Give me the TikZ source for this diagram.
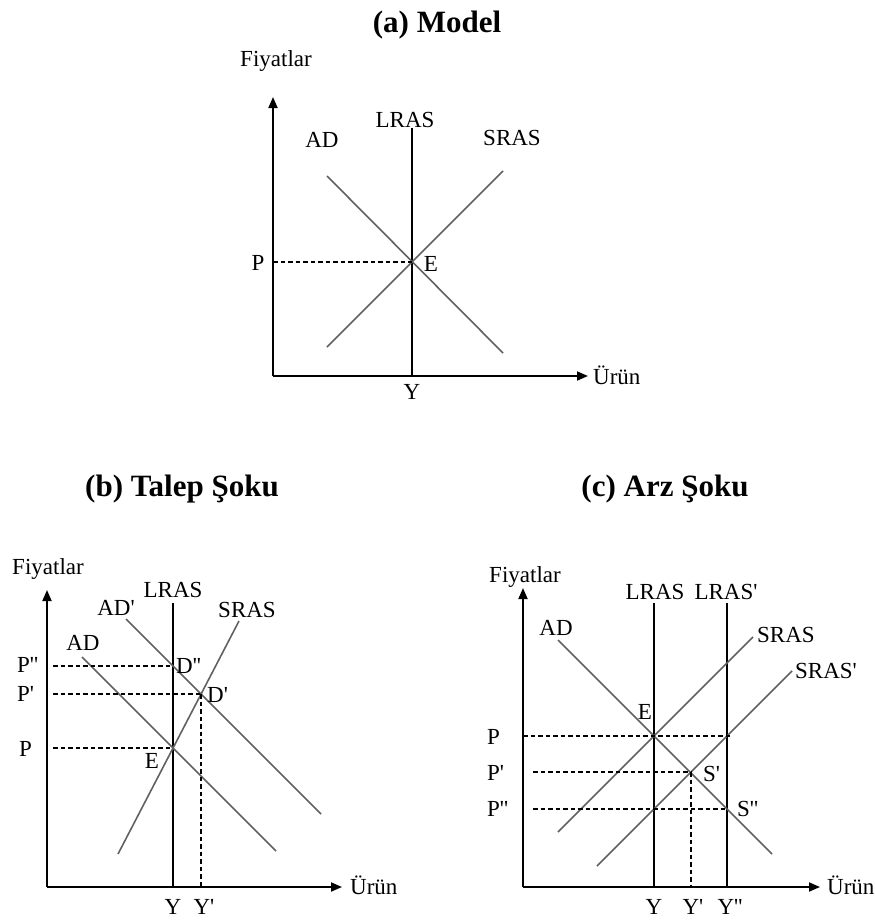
\documentclass[tikz,border=0pt]{standalone}
\usepackage{fontspec}
\setmainfont{Liberation Serif}
\usetikzlibrary{arrows.meta}
\newcommand\prm{\textquotesingle}

\begin{document}
\begin{tikzpicture}[x=1pt, y=-1pt,
    % ---- styles ----
    AX/.style={-{Triangle[length=11pt, width=9pt]}, line width=1.8pt, black},
    CV/.style={line width=1.6pt, color=black!62},
    LR/.style={line width=1.6pt, black},
    DS/.style={line width=1.3pt, dash pattern=on 4.5pt off 3pt},
    L/.style={font=\fontsize{23}{25}\selectfont, inner sep=0pt, anchor=base},
    LW/.style={L, anchor=base west},
    TT/.style={font=\fontsize{31}{34}\selectfont\bfseries, inner sep=0pt, anchor=base},
]
\useasboundingbox (0,0) rectangle (875,921);

% ===== Panel (a): Model =====
\node[TT] (ta) at (437,32) {(a) Model};
\coordinate (oa) at (273,376);
\coordinate (ea) at (412,262);
\draw[AX] (oa) -- (273,97);
\draw[AX] (oa) -- (588,376);
\draw[LR] (412,128) -- (412,376);
\draw[CV] (327,176) -- (503,353);
\draw[CV] (327,347) -- (503,171);
\draw[DS] (273,262) -- (ea);

\node[L] (fa) at (276,66) {Fiyatlar};
\node[L] at (405,127) {LRAS};
\node[L] at (322,147) {AD};
\node[L] at (512,145) {SRAS};
\node[L] at (258,270) {P};
\node[L] at (431,271) {E};
\node[L] at (412,399) {Y};
\node[LW] at (593,384) {Ürün};

% ===== Panel (b): Talep Şoku =====
\node[TT] (tb) at (182,496) {(b) Talep Şoku};
\coordinate (ob) at (47,887);
\coordinate (eb) at (173,748);
\coordinate (db) at (201,694);
\coordinate (ddb) at (173,666);
\draw[AX] (ob) -- (47,590);
\draw[AX] (ob) -- (342,887);
\draw[LR] (173,603) -- (173,887);
\draw[CV] (82,657) -- (276,851);
\draw[CV] (126,619) -- (321,814);
\draw[CV] (118,854) -- (239,621);
\draw[DS] (53,666) -- (ddb);
\draw[DS] (53,694) -- (db);
\draw[DS] (53,748) -- (eb);
\draw[DS] (db) -- (201,887);

\node[L] (fb) at (48,574) {Fiyatlar};
\node[L] at (173,597) {LRAS};
\node[L] at (83,650) {AD};
\node[L] at (116,615) {AD\prm};
\node[L] at (247,617) {SRAS};
\node[LW] at (17,672) {P\prm\prm};
\node[LW] at (17,701) {P\prm};
\node[LW] at (19,756) {P};
\node[LW] at (176,673) {D\prm\prm};
\node[LW] at (207,702) {D\prm};
\node[L] at (152,768) {E};
\node[L] at (173,914) {Y};
\node[L] at (204,914) {Y\prm};
\node[LW] at (350,894) {Ürün};

% ===== Panel (c): Arz Şoku =====
\node[TT] (tc) at (665,496) {(c) Arz Şoku};
\coordinate (oc) at (523,887);
\coordinate (ec) at (654,736);
\coordinate (sc) at (691,772);
\coordinate (ssc) at (727,809);
\draw[AX] (oc) -- (523,588);
\draw[AX] (oc) -- (820,887);
\draw[LR] (654,603) -- (654,887);
\draw[LR] (727,603) -- (727,887);
\draw[CV] (558,640) -- (772,854);
\draw[CV] (558,832) -- (753,637);
\draw[CV] (597,866) -- (792,671);
\draw[DS] (523,736) -- (732,736);
\draw[DS] (533,772) -- (sc);
\draw[DS] (533,809) -- (ssc);
\draw[DS] (sc) -- (691,887);

\node[L] (fc) at (525,582) {Fiyatlar};
\node[L] at (655,599) {LRAS};
\node[L] at (726,599) {LRAS\prm};
\node[L] at (556,635) {AD};
\node[LW] at (757,642) {SRAS};
\node[LW] at (795,678) {SRAS\prm};
\node[L] at (645,719) {E};
\node[LW] at (487,744) {P};
\node[LW] at (487,780) {P\prm};
\node[LW] at (487,816) {P\prm\prm};
\node[LW] at (703,781) {S\prm};
\node[LW] at (737,816) {S\prm\prm};
\node[L] at (654,914) {Y};
\node[L] at (693,914) {Y\prm};
\node[L] at (730,914) {Y\prm\prm};
\node[LW] at (827,894) {Ürün};

\end{tikzpicture}
\end{document}
